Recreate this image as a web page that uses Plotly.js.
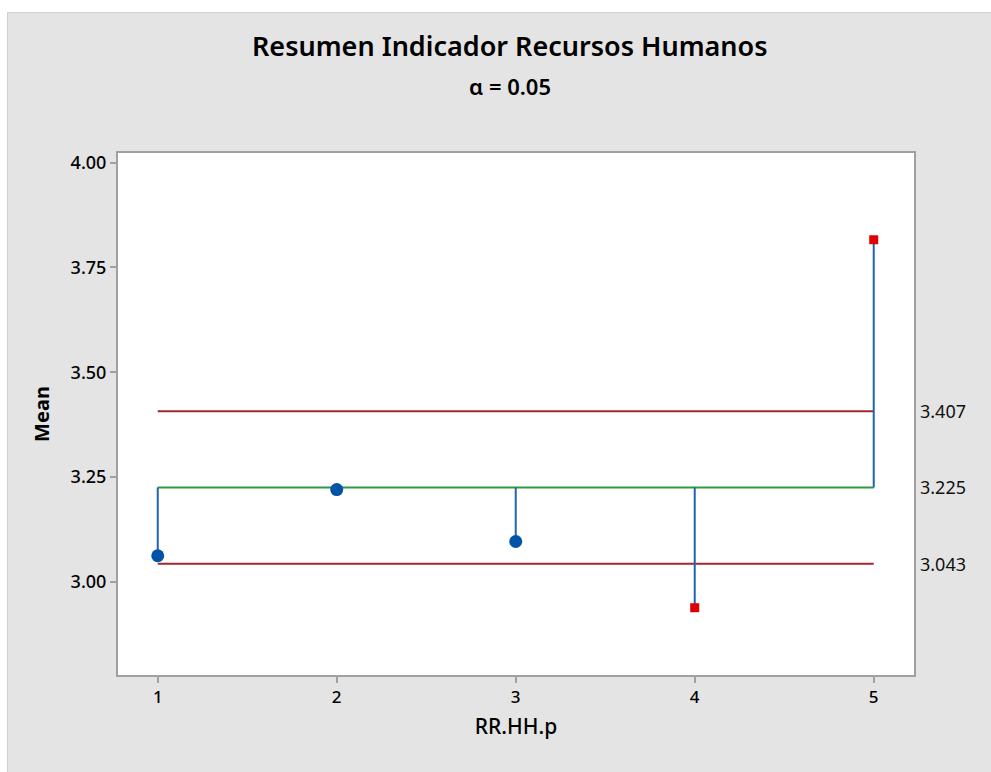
<!DOCTYPE html>
<html>
<head>
<meta charset="utf-8">
<script src="https://cdn.plot.ly/plotly-3.0.1.min.js"></script>
<style>
  html, body { margin: 0; padding: 0; background: #ffffff; }
  #chart { position: absolute; left: 7px; top: 12px; width: 984px; height: 760px;
           border-left: 1px solid #cfcfcf; border-top: 1px solid #cfcfcf; }
</style>
</head>
<body>
<div id="chart"></div>
<script>
const groups = [1, 2, 3, 4, 5];
const means = [3.062, 3.220, 3.096, 2.938, 3.816];
const centerLine = 3.225;
const upperLimit = 3.407;
const lowerLimit = 3.043;
const limitLabels = ["3.407", "3.225", "3.043"];
const yTicks = [3.00, 3.25, 3.50, 3.75, 4.00];
const yTickText = ["3.00", "3.25", "3.50", "3.75", "4.00"];

const stemX = [], stemY = [];
groups.forEach((g, i) => { stemX.push(g, g, null); stemY.push(centerLine, means[i], null); });

const inX = [], inY = [], outX = [], outY = [];
groups.forEach((g, i) => {
  if (means[i] > upperLimit || means[i] < lowerLimit) { outX.push(g); outY.push(means[i]); }
  else { inX.push(g); inY.push(means[i]); }
});

const xFirst = groups[0], xLast = groups[groups.length - 1];

const traces = [
  { x: [xFirst, xLast], y: [upperLimit, upperLimit], mode: 'lines', line: { color: '#a3282c', width: 2 }, hoverinfo: 'skip' },
  { x: [xFirst, xLast], y: [lowerLimit, lowerLimit], mode: 'lines', line: { color: '#a3282c', width: 2 }, hoverinfo: 'skip' },
  { x: [xFirst, xLast], y: [centerLine, centerLine], mode: 'lines', line: { color: '#2e9a3e', width: 2 }, hoverinfo: 'skip' },
  { x: stemX, y: stemY, mode: 'lines', line: { color: '#1f64b4', width: 2 }, connectgaps: false },
  { x: inX, y: inY, mode: 'markers', marker: { symbol: 'circle', size: 13, color: '#0053a6' } },
  { x: outX, y: outY, mode: 'markers', marker: { symbol: 'square', size: 9, color: '#e00000' } }
];

const annotations = [
  { text: 'Resumen Indicador Recursos Humanos', xref: 'paper', yref: 'paper', x: 0.492, y: 1.205, xanchor: 'center', yanchor: 'middle', showarrow: false,
    font: { family: 'Noto Sans', size: 27, color: '#000', weight: 600 } },
  { text: 'α = 0.05', xref: 'paper', yref: 'paper', x: 0.492, y: 1.128, xanchor: 'center', yanchor: 'middle', showarrow: false,
    font: { family: 'Noto Sans', size: 22, color: '#000', weight: 600 } }
];
[upperLimit, centerLine, lowerLimit].forEach((v, i) => {
  annotations.push({ text: limitLabels[i], xref: 'paper', yref: 'y', x: 1.0, xshift: 4, y: v, xanchor: 'left', yanchor: 'middle',
    showarrow: false, font: { family: 'Noto Sans', size: 18, color: '#111' } });
});

const layout = {
  width: 984, height: 760,
  paper_bgcolor: '#e4e4e4', plot_bgcolor: '#ffffff',
  margin: { l: 110, r: 78, t: 140, b: 98 },
  showlegend: false,
  font: { family: 'Noto Sans', color: '#111' },
  xaxis: {
    range: [0.778, 5.225], tickvals: groups, ticktext: groups.map(String),
    showgrid: false, zeroline: false, showline: true, mirror: true, linecolor: '#a0a0a0', linewidth: 2,
    ticks: 'outside', ticklen: 6, tickcolor: '#a0a0a0', tickwidth: 2,
    tickfont: { family: 'Noto Sans', size: 17, color: '#000', weight: 500 },
    title: { text: 'RR.HH.p', font: { family: 'Noto Sans', size: 21, color: '#000', weight: 500 }, standoff: 12 }
  },
  yaxis: {
    range: [2.7775, 4.023], tickvals: yTicks, ticktext: yTickText,
    showgrid: false, zeroline: false, showline: true, mirror: true, linecolor: '#a0a0a0', linewidth: 2,
    ticks: 'outside', ticklen: 6, tickcolor: '#a0a0a0', tickwidth: 2,
    tickfont: { family: 'Noto Sans', size: 18, color: '#000', weight: 500 },
    title: { text: '<b>Mean</b>', font: { family: 'Noto Sans', size: 20, color: '#000' }, standoff: 16 }
  },
  annotations: annotations
};

Plotly.newPlot('chart', traces, layout, { displayModeBar: false, staticPlot: true });
</script>
</body>
</html>
